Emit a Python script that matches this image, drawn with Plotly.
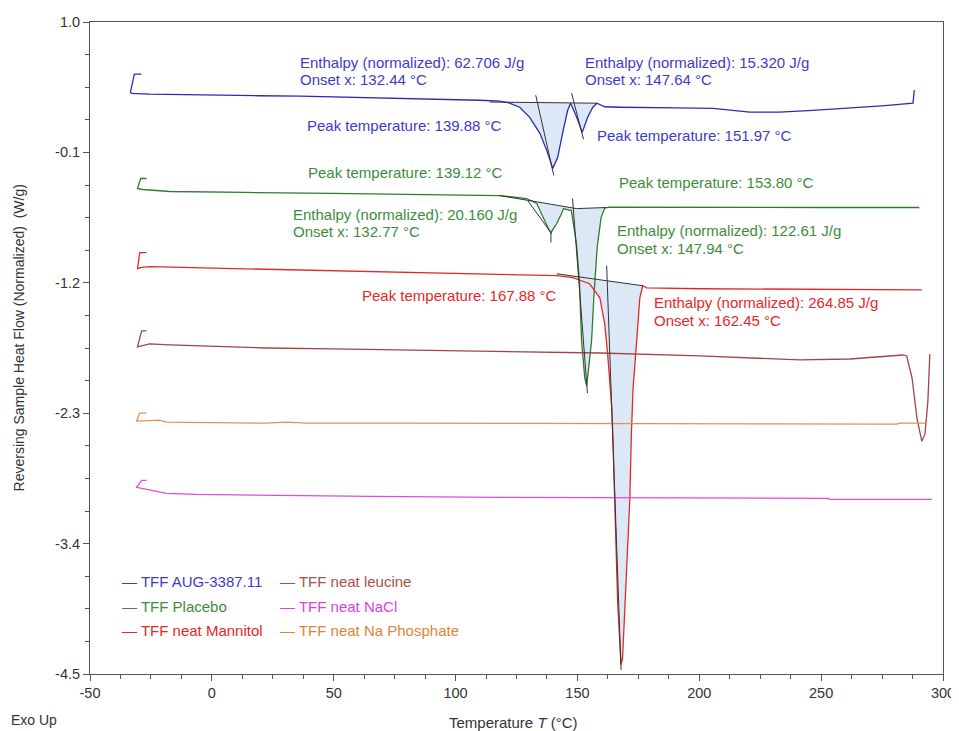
import plotly.graph_objects as go

# ---------------- data (Temperature °C, Reversing heat flow W/g) ----------------
aug_T = [-28.9, -31.8, -33.4, -33.0, -25.6, -11.3, -1.2, 19.0, 36.1, 59.3, 97.7, 109.8, 118.1, 121.9,
         126.3, 130.4, 134.6, 137.4, 139.88, 141.9, 143.9, 146.0, 147.2, 149.7, 151.97, 154.2, 156.3,
         158.0, 161.2, 167.2, 190.4, 205.6, 220.7, 232.8, 246.6, 261.0, 276.2, 287.7, 288.2]
aug_W = [0.56, 0.56, 0.41, 0.398, 0.391, 0.385, 0.382, 0.378, 0.374, 0.365, 0.349, 0.340, 0.332, 0.318,
         0.281, 0.196, 0.061, -0.083, -0.235, -0.142, 0.061, 0.255, 0.315, 0.196, 0.069, 0.196, 0.281,
         0.315, 0.285, 0.281, 0.275, 0.272, 0.240, 0.239, 0.255, 0.272, 0.295, 0.315, 0.425]

plac_T = [-26.8, -29.2, -30.5, -28.4, -17.3, 2.8, 13.9, 49.2, 82.5, 109.8, 118.1, 124.9, 129.2, 133.3,
          135.8, 138.0, 139.12, 141.5, 143.5, 144.3, 145.9, 147.5, 149.6, 150.8, 151.7, 153.0, 153.8,
          154.8, 155.8, 156.8, 158.1, 159.7, 161.2, 163.2, 200.5, 251.0, 290.3]
plac_W = [-0.32, -0.32, -0.404, -0.413, -0.430, -0.438, -0.438, -0.445, -0.455, -0.462, -0.464, -0.480,
          -0.489, -0.531, -0.650, -0.740, -0.777, -0.700, -0.616, -0.574, -0.582, -0.591, -0.870, -1.180,
          -1.690, -2.000, -2.070, -1.900, -1.690, -1.300, -0.900, -0.650, -0.570, -0.562, -0.565, -0.565,
          -0.565]

mann_T = [-26.8, -29.6, -30.5, -28.9, -25.4, -5.2, 2.8, 55.3, 109.8, 137.4, 141.5, 148.1, 155.0, 159.2,
          161.2, 162.4, 164.1, 164.5, 165.3, 166.5, 167.88, 168.5, 170.2, 171.5, 172.1, 172.8, 174.3,
          175.6, 176.8, 178.4, 200.5, 251.0, 291.3]
mann_W = [-0.946, -0.946, -1.081, -1.070, -1.064, -1.073, -1.073, -1.098, -1.124, -1.132, -1.140, -1.157,
          -1.208, -1.327, -1.547, -1.800, -2.257, -2.477, -3.044, -3.890, -4.420, -4.372, -3.611, -3.020,
          -2.500, -2.100, -1.690, -1.327, -1.225, -1.242, -1.250, -1.255, -1.259]

leu_T = [-26.8, -28.8, -30.5, -25.6, -17.3, -1.0, 22.4, 49.5, 74.1, 119.8, 159.2, 200.2, 241.3, 261.8,
         283.5, 285.1, 287.3, 289.3, 291.3, 292.6, 293.8, 294.6]
leu_W = [-1.606, -1.606, -1.741, -1.716, -1.724, -1.733, -1.750, -1.758, -1.767, -1.780, -1.792, -1.817,
         -1.851, -1.843, -1.809, -1.817, -2.003, -2.342, -2.536, -2.477, -2.198, -1.800]

nacl_T = [-26.8, -28.8, -30.9, -18.6, -6.2, 22.4, 66.0, 118.1, 252.8, 253.6, 295.4]
nacl_W = [-2.866, -2.866, -2.926, -2.976, -2.985, -2.993, -3.002, -3.010, -3.019, -3.027, -3.027]

phos_T = [-26.8, -29.6, -30.9, -21.5, -18.6, 22.4, 30.7, 38.8, 77.1, 150.1, 281.1, 282.3, 292.6]
phos_W = [-2.299, -2.299, -2.367, -2.359, -2.376, -2.384, -2.376, -2.384, -2.384, -2.388, -2.393,
          -2.384, -2.384]

# integration baselines
aug_base_T = [114.0, 158.0]
aug_base_W = [0.325, 0.315]
plac_base_T = [118.1, 149.6, 162.0]
plac_base_W = [-0.464, -0.574, -0.565]
mann_base_T = [141.5, 176.8]
mann_base_W = [-1.124, -1.225]

# onset tangents / peak markers
tangents = [
    ([132.9, 140.3], [0.382, -0.294]),
    ([147.6, 152.5], [0.399, 0.010]),
    ([129.6, 139.4], [-0.506, -0.785]),
    ([139.12, 139.12], [-0.777, -0.860]),
    ([148.0, 154.1], [-0.490, -2.130]),
    ([162.0, 167.9], [-1.056, -4.465]),
]

# axis ticks
x_ticks = [-50, 0, 50, 100, 150, 200, 250, 300]
x_ticktext = ["-50", "0", "50", "100", "150", "200", "250", "300"]
y_ticks = [1.0, -0.1, -1.2, -2.3, -3.4, -4.5]
y_ticktext = ["1.0", "-0.1", "-1.2", "-2.3", "-3.4", "-4.5"]

# series names and colors (line, text)
names = ["TFF AUG-3387.11", "TFF Placebo", "TFF neat Mannitol",
         "TFF neat leucine", "TFF neat NaCl", "TFF neat Na Phosphate"]
line_colors = ["#2b2bb5", "#2e7d2e", "#e02a2a", "#a24545", "#e04ae0", "#e89050"]
text_colors = ["#3c3cc8", "#3d8c3d", "#e8262b", "#a9504d", "#e040e0", "#e0843a"]
curves = [(aug_T, aug_W), (plac_T, plac_W), (mann_T, mann_W),
          (leu_T, leu_W), (nacl_T, nacl_W), (phos_T, phos_W)]

# result labels: (text, x °C, y W/g, series index)
labels = [
    ("Enthalpy (normalized): 62.706 J/g", 35.3, 0.659, 0),
    ("Onset x: 132.44 °C", 35.3, 0.515, 0),
    ("Enthalpy (normalized): 15.320 J/g", 152.1, 0.659, 0),
    ("Onset x: 147.64 °C", 152.1, 0.515, 0),
    ("Peak temperature: 139.88 °C", 38.1, 0.123, 0),
    ("Peak temperature: 151.97 °C", 157.1, 0.043, 0),
    ("Peak temperature: 139.12 °C", 38.5, -0.269, 1),
    ("Peak temperature: 153.80 °C", 166.4, -0.355, 1),
    ("Enthalpy (normalized): 20.160 J/g", 32.3, -0.627, 1),
    ("Onset x: 132.77 °C", 32.3, -0.768, 1),
    ("Enthalpy (normalized): 122.61 J/g", 165.3, -0.760, 1),
    ("Onset x: 147.94 °C", 165.3, -0.908, 1),
    ("Peak temperature: 167.88 °C", 60.6, -1.310, 2),
    ("Enthalpy (normalized): 264.85 J/g", 180.8, -1.369, 2),
    ("Onset x: 162.45 °C", 180.8, -1.521, 2),
]

# legend block positions (x °C, y W/g) for each series
legend_x = [-37.6, -37.6, -37.6, 27.0, 27.0, 27.0]
legend_y = [-3.719, -3.930, -4.135, -3.719, -3.930, -4.135]

FONT = "Liberation Sans, Arial, sans-serif"
FILL = "#dde8f7"


def area(cT, cW, bT, bW):
    xs, ys = list(bT), list(bW)
    inner = [(t, w) for t, w in zip(cT, cW) if bT[0] < t < bT[-1]]
    for t, w in reversed(inner):
        xs.append(t)
        ys.append(w)
    xs.append(bT[0])
    ys.append(bW[0])
    return xs, ys


fig = go.Figure()

for (cT, cW), bT, bW in [((aug_T, aug_W), aug_base_T, aug_base_W),
                          ((plac_T, plac_W), plac_base_T, plac_base_W),
                          ((mann_T, mann_W), mann_base_T, mann_base_W)]:
    xs, ys = area(cT, cW, bT, bW)
    fig.add_trace(go.Scatter(x=xs, y=ys, mode="lines", fill="toself", fillcolor=FILL,
                             line=dict(width=0), hoverinfo="skip", showlegend=False))

for (cT, cW), nm, col in zip(curves, names, line_colors):
    fig.add_trace(go.Scatter(x=cT, y=cW, mode="lines", name=nm,
                             line=dict(color=col, width=1.3), showlegend=False))

for bT, bW in [(aug_base_T, aug_base_W), (plac_base_T, plac_base_W), (mann_base_T, mann_base_W)]:
    fig.add_trace(go.Scatter(x=bT, y=bW, mode="lines", line=dict(color="#333333", width=1),
                             hoverinfo="skip", showlegend=False))
for tT, tW in tangents:
    fig.add_trace(go.Scatter(x=tT, y=tW, mode="lines", line=dict(color="#333333", width=1),
                             hoverinfo="skip", showlegend=False))

ann = []
for txt, x, y, si in labels:
    ann.append(dict(text=txt, x=x, y=y, xref="x", yref="y", xanchor="left", yanchor="middle",
                    showarrow=False, font=dict(family=FONT, size=15, color=text_colors[si])))
for nm, col, x, y in zip(names, text_colors, legend_x, legend_y):
    ann.append(dict(text="— " + nm, x=x, y=y, xref="x", yref="y", xanchor="left", yanchor="middle",
                    showarrow=False, font=dict(family=FONT, size=15, color=col)))

ann.append(dict(text="Reversing Sample Heat Flow (Normalized)\u00a0 (W/g)", textangle=-90,
                x=-0.083, y=0.515, xref="paper", yref="paper", xanchor="center", yanchor="middle",
                showarrow=False, font=dict(family=FONT, size=14, color="#333333")))
ann.append(dict(text="Temperature <i>T</i> (°C)", x=0.497, y=-0.074, xref="paper", yref="paper",
                xanchor="center", yanchor="middle", showarrow=False,
                font=dict(family=FONT, size=15, color="#333333")))
ann.append(dict(text="Exo Up", x=-0.0944, y=-0.071, xref="paper", yref="paper",
                xanchor="left", yanchor="middle", showarrow=False,
                font=dict(family=FONT, size=14, color="#333333")))

# page body has an 8 px margin: figure sized/margined so the plot box lands where the reference has it
fig.update_layout(
    width=951, height=723,
    margin=dict(l=82, r=16, t=14, b=57, autoexpand=False),
    paper_bgcolor="white", plot_bgcolor="white",
    showlegend=False,
    annotations=ann,
    font=dict(family=FONT, color="#333333"),
)
fig.update_xaxes(range=[-50, 300], tickmode="array", tickvals=x_ticks, ticktext=x_ticktext,
                 ticks="outside", ticklen=6, automargin=False,
                 tickcolor="#555555", showline=True, linecolor="#555555", linewidth=1,
                 mirror=True, showgrid=False, zeroline=False,
                 tickfont=dict(family=FONT, size=14.5, color="#333333"),
                 minor=dict(tickmode="linear", tick0=-50, dtick=12.5, ticklen=4, ticks="outside",
                            tickcolor="#555555", showgrid=False))
fig.update_yaxes(range=[-4.5, 1.0], tickmode="array", tickvals=y_ticks, ticktext=y_ticktext,
                 ticks="outside", automargin=False,
                 ticklen=6, tickcolor="#555555", showline=True, linecolor="#555555", linewidth=1,
                 mirror=True, showgrid=False, zeroline=False,
                 tickfont=dict(family=FONT, size=14.5, color="#333333"),
                 minor=dict(tickmode="linear", tick0=-4.5, dtick=0.275, ticklen=4, ticks="outside",
                            tickcolor="#555555", showgrid=False))

fig.write_html("out.html")
